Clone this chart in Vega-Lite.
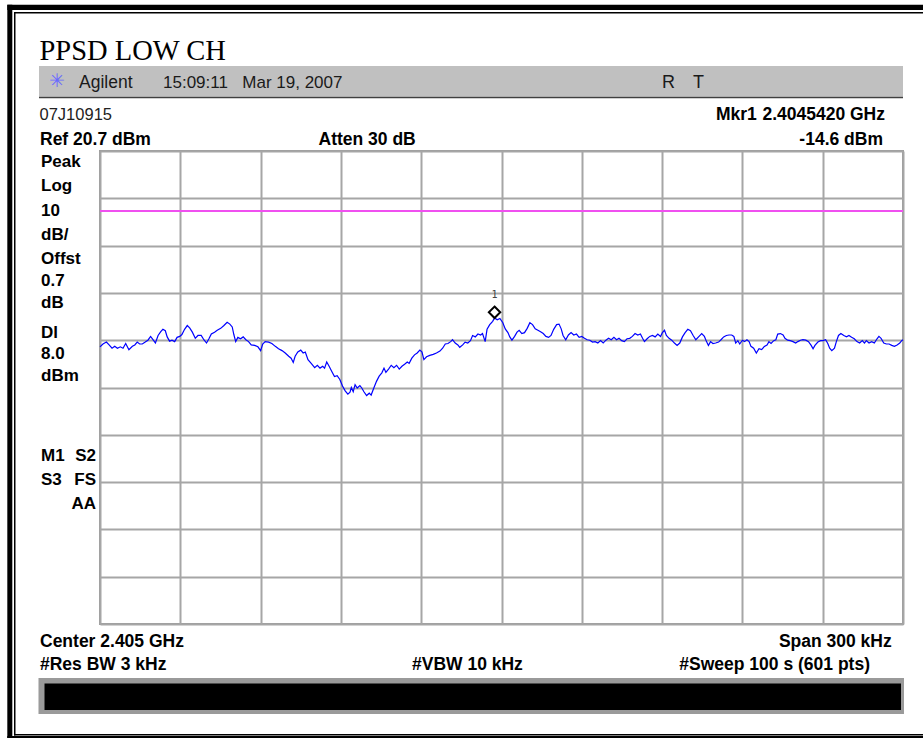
{
"$schema": "https://vega.github.io/schema/vega-lite/v6.json",
"width": 803, "height": 473,
"autosize": {"type": "none"},
"padding": {"left": 100, "top": 151, "right": 20, "bottom": 114},
"background": "white",
"config": {"view": {"stroke": "#9c9c9c", "strokeWidth": 2}, "font": "Liberation Sans"},
"data": {"values": [{}]},
"datasets": {
"trace": [
{"f":-150.0,"dBm":-20.7},{"f":-148.9,"dBm":-20.1},{"f":-147.6,"dBm":-19.7},{"f":-146.6,"dBm":-20.3},{"f":-145.5,"dBm":-21.0},{"f":-144.5,"dBm":-20.6},{"f":-143.5,"dBm":-21.0},{"f":-142.4,"dBm":-20.7},{"f":-141.4,"dBm":-21.0},{"f":-140.4,"dBm":-20.0},
{"f":-139.2,"dBm":-21.3},{"f":-137.9,"dBm":-20.6},{"f":-137.0,"dBm":-20.3},{"f":-136.1,"dBm":-19.7},{"f":-135.2,"dBm":-20.1},{"f":-134.2,"dBm":-20.1},{"f":-133.1,"dBm":-19.7},{"f":-132.1,"dBm":-19.3},{"f":-131.1,"dBm":-18.5},{"f":-130.2,"dBm":-19.2},
{"f":-129.3,"dBm":-19.9},{"f":-128.3,"dBm":-18.3},{"f":-127.3,"dBm":-17.5},{"f":-126.5,"dBm":-17.0},{"f":-125.6,"dBm":-17.3},{"f":-124.9,"dBm":-18.6},{"f":-124.0,"dBm":-19.5},{"f":-123.1,"dBm":-19.3},{"f":-122.1,"dBm":-19.6},{"f":-121.2,"dBm":-18.7},
{"f":-120.2,"dBm":-18.5},{"f":-119.4,"dBm":-18.1},{"f":-118.4,"dBm":-17.0},{"f":-117.4,"dBm":-16.2},{"f":-116.5,"dBm":-16.7},{"f":-115.5,"dBm":-17.6},{"f":-114.4,"dBm":-18.9},{"f":-113.4,"dBm":-18.3},{"f":-112.2,"dBm":-18.3},{"f":-111.2,"dBm":-19.2},
{"f":-110.2,"dBm":-19.9},{"f":-109.3,"dBm":-19.0},{"f":-108.4,"dBm":-18.0},{"f":-107.2,"dBm":-17.6},{"f":-106.2,"dBm":-17.2},{"f":-104.9,"dBm":-16.8},{"f":-103.7,"dBm":-16.2},{"f":-102.5,"dBm":-15.5},{"f":-101.5,"dBm":-15.9},{"f":-100.6,"dBm":-16.5},
{"f":-100.0,"dBm":-18.1},{"f":-99.3,"dBm":-19.6},{"f":-98.5,"dBm":-18.7},{"f":-97.5,"dBm":-19.0},{"f":-96.5,"dBm":-18.6},{"f":-95.5,"dBm":-19.2},{"f":-94.5,"dBm":-19.6},{"f":-93.5,"dBm":-20.3},{"f":-92.2,"dBm":-20.4},{"f":-91.0,"dBm":-20.7},
{"f":-90.0,"dBm":-21.5},{"f":-89.2,"dBm":-20.1},{"f":-88.3,"dBm":-19.6},{"f":-87.0,"dBm":-19.7},{"f":-85.8,"dBm":-20.0},{"f":-84.5,"dBm":-20.6},{"f":-83.3,"dBm":-21.1},{"f":-82.0,"dBm":-21.5},{"f":-80.8,"dBm":-22.0},{"f":-79.5,"dBm":-22.7},
{"f":-78.6,"dBm":-23.1},{"f":-77.8,"dBm":-24.0},{"f":-77.1,"dBm":-22.7},{"f":-76.1,"dBm":-21.8},{"f":-75.0,"dBm":-21.4},{"f":-74.1,"dBm":-22.0},{"f":-73.3,"dBm":-21.8},{"f":-72.3,"dBm":-23.4},{"f":-71.1,"dBm":-24.2},{"f":-69.8,"dBm":-25.1},
{"f":-68.8,"dBm":-24.6},{"f":-67.8,"dBm":-25.2},{"f":-66.8,"dBm":-24.8},{"f":-66.1,"dBm":-25.2},{"f":-65.3,"dBm":-23.9},{"f":-64.4,"dBm":-24.8},{"f":-63.4,"dBm":-25.9},{"f":-62.4,"dBm":-27.0},{"f":-61.4,"dBm":-26.8},{"f":-60.4,"dBm":-27.6},
{"f":-59.4,"dBm":-29.0},{"f":-58.4,"dBm":-30.0},{"f":-57.4,"dBm":-30.7},{"f":-56.6,"dBm":-30.3},{"f":-56.1,"dBm":-29.3},{"f":-55.4,"dBm":-30.2},{"f":-54.7,"dBm":-28.7},{"f":-53.9,"dBm":-29.4},{"f":-52.9,"dBm":-28.9},{"f":-52.2,"dBm":-29.4},
{"f":-51.4,"dBm":-30.2},{"f":-50.4,"dBm":-31.0},{"f":-49.4,"dBm":-30.5},{"f":-48.7,"dBm":-30.9},{"f":-47.7,"dBm":-29.4},{"f":-46.7,"dBm":-28.0},{"f":-45.7,"dBm":-26.9},{"f":-44.7,"dBm":-26.2},{"f":-43.9,"dBm":-25.2},{"f":-43.2,"dBm":-26.1},
{"f":-42.2,"dBm":-25.4},{"f":-41.2,"dBm":-24.6},{"f":-40.2,"dBm":-25.1},{"f":-39.2,"dBm":-24.6},{"f":-38.2,"dBm":-25.4},{"f":-37.2,"dBm":-24.8},{"f":-36.2,"dBm":-24.4},{"f":-35.2,"dBm":-23.9},{"f":-34.5,"dBm":-24.2},{"f":-33.5,"dBm":-23.1},
{"f":-32.5,"dBm":-22.4},{"f":-31.5,"dBm":-22.0},{"f":-30.5,"dBm":-21.4},{"f":-29.7,"dBm":-21.8},{"f":-29.0,"dBm":-23.4},{"f":-28.0,"dBm":-22.8},{"f":-26.8,"dBm":-22.5},{"f":-25.5,"dBm":-22.3},{"f":-24.3,"dBm":-22.0},{"f":-23.0,"dBm":-21.6},
{"f":-22.0,"dBm":-21.0},{"f":-21.0,"dBm":-20.1},{"f":-20.0,"dBm":-20.0},{"f":-19.0,"dBm":-19.6},{"f":-18.3,"dBm":-19.2},{"f":-17.3,"dBm":-19.9},{"f":-16.3,"dBm":-20.3},{"f":-15.6,"dBm":-20.8},{"f":-14.5,"dBm":-20.3},{"f":-13.6,"dBm":-19.7},
{"f":-12.6,"dBm":-19.9},{"f":-11.6,"dBm":-19.4},{"f":-10.8,"dBm":-18.3},{"f":-9.8,"dBm":-18.6},{"f":-8.8,"dBm":-18.0},{"f":-7.8,"dBm":-18.2},{"f":-7.1,"dBm":-17.9},{"f":-6.1,"dBm":-19.6},{"f":-5.4,"dBm":-17.0},{"f":-4.4,"dBm":-16.0},
{"f":-3.3,"dBm":-15.3},{"f":-2.6,"dBm":-14.6},{"f":-1.6,"dBm":-15.0},{"f":-0.6,"dBm":-14.7},{"f":0.5,"dBm":-15.6},{"f":1.4,"dBm":-16.9},{"f":2.4,"dBm":-17.7},{"f":3.1,"dBm":-18.6},{"f":3.9,"dBm":-19.3},{"f":4.9,"dBm":-18.5},
{"f":5.8,"dBm":-17.6},{"f":6.6,"dBm":-17.2},{"f":7.6,"dBm":-17.9},{"f":8.6,"dBm":-17.7},{"f":9.6,"dBm":-16.8},{"f":10.6,"dBm":-15.6},{"f":11.6,"dBm":-16.0},{"f":12.6,"dBm":-16.9},{"f":13.6,"dBm":-17.2},{"f":14.6,"dBm":-17.5},
{"f":15.6,"dBm":-17.9},{"f":16.6,"dBm":-18.5},{"f":17.6,"dBm":-18.7},{"f":18.5,"dBm":-18.3},{"f":19.5,"dBm":-17.0},{"f":20.6,"dBm":-16.0},{"f":21.5,"dBm":-15.9},{"f":22.3,"dBm":-16.9},{"f":23.0,"dBm":-18.3},{"f":24.0,"dBm":-19.2},
{"f":25.0,"dBm":-18.2},{"f":26.0,"dBm":-17.7},{"f":27.0,"dBm":-18.2},{"f":28.0,"dBm":-18.0},{"f":29.0,"dBm":-18.7},{"f":30.0,"dBm":-18.5},{"f":31.0,"dBm":-18.9},{"f":32.0,"dBm":-19.2},{"f":33.0,"dBm":-19.3},{"f":34.0,"dBm":-19.7},
{"f":35.0,"dBm":-19.6},{"f":36.0,"dBm":-19.9},{"f":37.0,"dBm":-19.4},{"f":38.0,"dBm":-19.9},{"f":39.0,"dBm":-19.3},{"f":40.0,"dBm":-18.9},{"f":41.0,"dBm":-19.2},{"f":42.0,"dBm":-18.7},{"f":43.0,"dBm":-19.2},{"f":43.9,"dBm":-18.9},
{"f":44.9,"dBm":-19.4},{"f":45.9,"dBm":-19.6},{"f":46.9,"dBm":-19.0},{"f":47.9,"dBm":-18.9},{"f":48.9,"dBm":-18.5},{"f":49.9,"dBm":-17.9},{"f":50.9,"dBm":-18.2},{"f":51.9,"dBm":-18.0},{"f":52.7,"dBm":-18.9},{"f":53.4,"dBm":-19.6},
{"f":54.4,"dBm":-19.0},{"f":55.4,"dBm":-18.5},{"f":56.4,"dBm":-18.3},{"f":57.4,"dBm":-18.6},{"f":58.4,"dBm":-18.0},{"f":59.4,"dBm":-18.5},{"f":60.1,"dBm":-17.7},{"f":60.9,"dBm":-17.2},{"f":61.6,"dBm":-18.3},{"f":62.6,"dBm":-18.9},
{"f":63.6,"dBm":-19.3},{"f":64.6,"dBm":-19.9},{"f":65.6,"dBm":-20.4},{"f":66.6,"dBm":-19.9},{"f":67.6,"dBm":-18.6},{"f":68.6,"dBm":-17.7},{"f":69.6,"dBm":-17.0},{"f":70.6,"dBm":-17.3},{"f":71.6,"dBm":-18.3},{"f":72.6,"dBm":-19.2},
{"f":73.8,"dBm":-18.5},{"f":74.8,"dBm":-17.9},{"f":75.8,"dBm":-18.5},{"f":76.6,"dBm":-19.6},{"f":77.3,"dBm":-20.4},{"f":78.1,"dBm":-19.6},{"f":79.0,"dBm":-20.0},{"f":80.0,"dBm":-19.9},{"f":81.1,"dBm":-19.7},{"f":82.0,"dBm":-19.2},
{"f":83.0,"dBm":-18.6},{"f":84.0,"dBm":-18.3},{"f":85.0,"dBm":-18.2},{"f":86.0,"dBm":-18.2},{"f":86.8,"dBm":-18.5},{"f":87.5,"dBm":-19.9},{"f":88.3,"dBm":-19.4},{"f":89.0,"dBm":-20.1},{"f":90.0,"dBm":-19.3},{"f":90.8,"dBm":-19.6},
{"f":91.7,"dBm":-19.2},{"f":92.5,"dBm":-19.6},{"f":93.2,"dBm":-20.6},{"f":94.2,"dBm":-21.0},{"f":95.2,"dBm":-22.0},{"f":96.2,"dBm":-21.1},{"f":97.2,"dBm":-21.3},{"f":98.2,"dBm":-20.6},{"f":99.2,"dBm":-20.3},{"f":99.9,"dBm":-19.6},
{"f":100.7,"dBm":-20.0},{"f":101.7,"dBm":-19.4},{"f":102.5,"dBm":-19.2},{"f":103.2,"dBm":-18.0},{"f":104.2,"dBm":-17.9},{"f":105.2,"dBm":-18.2},{"f":105.9,"dBm":-18.9},{"f":106.9,"dBm":-19.3},{"f":107.9,"dBm":-19.4},{"f":108.9,"dBm":-19.6},
{"f":109.9,"dBm":-19.9},{"f":110.7,"dBm":-19.6},{"f":111.7,"dBm":-19.3},{"f":112.6,"dBm":-19.2},{"f":113.7,"dBm":-19.3},{"f":114.7,"dBm":-19.6},{"f":115.7,"dBm":-20.4},{"f":116.4,"dBm":-21.1},{"f":117.1,"dBm":-20.4},{"f":118.2,"dBm":-19.7},
{"f":119.2,"dBm":-19.4},{"f":120.1,"dBm":-19.4},{"f":121.1,"dBm":-19.2},{"f":121.9,"dBm":-20.0},{"f":122.6,"dBm":-21.0},{"f":123.4,"dBm":-21.5},{"f":124.4,"dBm":-21.0},{"f":125.1,"dBm":-19.6},{"f":125.9,"dBm":-18.3},{"f":126.8,"dBm":-17.9},
{"f":127.9,"dBm":-18.3},{"f":128.9,"dBm":-18.6},{"f":129.8,"dBm":-18.3},{"f":130.8,"dBm":-18.7},{"f":131.8,"dBm":-19.0},{"f":132.8,"dBm":-19.6},{"f":133.8,"dBm":-19.9},{"f":134.8,"dBm":-19.4},{"f":135.6,"dBm":-19.9},{"f":136.3,"dBm":-19.4},
{"f":137.3,"dBm":-19.9},{"f":138.3,"dBm":-19.6},{"f":139.3,"dBm":-19.9},{"f":140.3,"dBm":-19.0},{"f":141.0,"dBm":-18.5},{"f":141.8,"dBm":-18.9},{"f":142.8,"dBm":-19.9},{"f":143.8,"dBm":-20.1},{"f":144.8,"dBm":-20.1},{"f":145.8,"dBm":-20.4},
{"f":146.8,"dBm":-20.6},{"f":147.8,"dBm":-20.3},{"f":148.8,"dBm":-19.9},{"f":149.5,"dBm":-19.4},{"f":150.0,"dBm":-19.2}
],
"marker": [{"f": -2.6, "dBm": -14.6, "label": "1"}]
},
"layer": [
{"mark": {"type": "rect", "fill": "black"}, "encoding": {"x": {"datum": -184.63}, "x2": {"datum": -182.76}, "y": {"datum": 51.63}, "y2": {"datum": -104.88}}},
{"mark": {"type": "rect", "fill": "black"}, "encoding": {"x": {"datum": -184.63}, "x2": {"datum": 160.09}, "y": {"datum": 51.63}, "y2": {"datum": 50.51}}},
{"mark": {"type": "rect", "fill": "black"}, "encoding": {"x": {"datum": -184.63}, "x2": {"datum": 160.09}, "y": {"datum": -102.98}, "y2": {"datum": -104.88}}},
{"mark": {"type": "rect", "fill": "black"}, "encoding": {"x": {"datum": -182.13}, "x2": {"datum": -181.57}, "y": {"datum": 50.09}, "y2": {"datum": -102.85}}},
{"mark": {"type": "rect", "fill": "black"}, "encoding": {"x": {"datum": -182.13}, "x2": {"datum": 160.09}, "y": {"datum": 50.09}, "y2": {"datum": 49.79}}},
{"mark": {"type": "rect", "fill": "black"}, "encoding": {"x": {"datum": -182.13}, "x2": {"datum": 160.09}, "y": {"datum": -102.56}, "y2": {"datum": -102.85}}},
{"mark": {"type": "text", "align": "left", "baseline": "alphabetic", "font": "Liberation Serif", "fontSize": 28.5, "color": "black"}, "encoding": {"x": {"datum": -172.6}, "y": {"datum": 39.94}, "text": {"value": "PPSD LOW CH"}}},
{"mark": {"type": "rect", "fill": "#c0c0c0"}, "encoding": {"x": {"datum": -172.79}, "x2": {"datum": 150.0}, "y": {"datum": 38.67}, "y2": {"datum": 32.18}}},
{"mark": {"type": "rect", "fill": "#404040"}, "encoding": {"x": {"datum": -172.79}, "x2": {"datum": 150.0}, "y": {"datum": 32.18}, "y2": {"datum": 31.84}}},
{"mark": {"type": "text", "align": "center", "baseline": "middle", "fontSize": 19, "color": "#6a6aff", "font": "DejaVu Sans"}, "encoding": {"x": {"datum": -166.06}, "y": {"datum": 35.5}, "text": {"value": "✳"}}},
{"mark": {"type": "text", "align": "left", "baseline": "alphabetic", "fontSize": 17.5, "color": "#1a1a1a"}, "encoding": {"x": {"datum": -157.85}, "y": {"datum": 33.96}, "text": {"value": "Agilent"}}},
{"mark": {"type": "text", "align": "left", "baseline": "alphabetic", "fontSize": 17, "color": "#1a1a1a"}, "encoding": {"x": {"datum": -126.46}, "y": {"datum": 33.96}, "text": {"value": "15:09:11"}}},
{"mark": {"type": "text", "align": "left", "baseline": "alphabetic", "fontSize": 17, "color": "#1a1a1a"}, "encoding": {"x": {"datum": -96.84}, "y": {"datum": 33.96}, "text": {"value": "Mar 19, 2007"}}},
{"mark": {"type": "text", "align": "left", "baseline": "alphabetic", "fontSize": 18, "color": "#1a1a1a"}, "encoding": {"x": {"datum": 59.96}, "y": {"datum": 33.96}, "text": {"value": "R"}}},
{"mark": {"type": "text", "align": "left", "baseline": "alphabetic", "fontSize": 18, "color": "#1a1a1a"}, "encoding": {"x": {"datum": 71.54}, "y": {"datum": 33.96}, "text": {"value": "T"}}},
{"mark": {"type": "text", "align": "left", "baseline": "alphabetic", "fontSize": 16.5, "color": "#222222"}, "encoding": {"x": {"datum": -172.6}, "y": {"datum": 27.25}, "text": {"value": "07J10915"}}},
{"mark": {"type": "text", "align": "left", "baseline": "alphabetic", "fontSize": 17.5, "fontWeight": "bold", "color": "black"}, "encoding": {"x": {"datum": -172.42}, "y": {"datum": 21.97}, "text": {"value": "Ref 20.7 dBm"}}},
{"mark": {"type": "text", "align": "left", "baseline": "alphabetic", "fontSize": 17.5, "fontWeight": "bold", "color": "black"}, "encoding": {"x": {"datum": -68.37}, "y": {"datum": 21.97}, "text": {"value": "Atten 30 dB"}}},
{"mark": {"type": "text", "align": "left", "baseline": "alphabetic", "fontSize": 17.5, "fontWeight": "bold", "color": "black"}, "encoding": {"x": {"datum": 80.13}, "y": {"datum": 27.15}, "text": {"value": "Mkr1"}}},
{"mark": {"type": "text", "align": "right", "baseline": "alphabetic", "fontSize": 17.5, "fontWeight": "bold", "color": "black"}, "encoding": {"x": {"datum": 143.28}, "y": {"datum": 27.15}, "text": {"value": "2.4045420 GHz"}}},
{"mark": {"type": "text", "align": "right", "baseline": "alphabetic", "fontSize": 17.5, "fontWeight": "bold", "color": "black"}, "encoding": {"x": {"datum": 142.53}, "y": {"datum": 21.97}, "text": {"value": "-14.6 dBm"}}},
{"mark": {"type": "text", "align": "left", "baseline": "alphabetic", "fontSize": 17, "fontWeight": "bold", "color": "black"}, "encoding": {"x": {"datum": -172.04}, "y": {"datum": 17.32}, "text": {"value": "Peak"}}},
{"mark": {"type": "text", "align": "left", "baseline": "alphabetic", "fontSize": 17, "fontWeight": "bold", "color": "black"}, "encoding": {"x": {"datum": -172.04}, "y": {"datum": 12.31}, "text": {"value": "Log"}}},
{"mark": {"type": "text", "align": "left", "baseline": "alphabetic", "fontSize": 17, "fontWeight": "bold", "color": "black"}, "encoding": {"x": {"datum": -172.04}, "y": {"datum": 6.96}, "text": {"value": "10"}}},
{"mark": {"type": "text", "align": "left", "baseline": "alphabetic", "fontSize": 17, "fontWeight": "bold", "color": "black"}, "encoding": {"x": {"datum": -172.04}, "y": {"datum": 1.88}, "text": {"value": "dB/"}}},
{"mark": {"type": "text", "align": "left", "baseline": "alphabetic", "fontSize": 17, "fontWeight": "bold", "color": "black"}, "encoding": {"x": {"datum": -172.04}, "y": {"datum": -3.19}, "text": {"value": "Offst"}}},
{"mark": {"type": "text", "align": "left", "baseline": "alphabetic", "fontSize": 17, "fontWeight": "bold", "color": "black"}, "encoding": {"x": {"datum": -172.04}, "y": {"datum": -7.78}, "text": {"value": "0.7"}}},
{"mark": {"type": "text", "align": "left", "baseline": "alphabetic", "fontSize": 17, "fontWeight": "bold", "color": "black"}, "encoding": {"x": {"datum": -172.04}, "y": {"datum": -12.43}, "text": {"value": "dB"}}},
{"mark": {"type": "text", "align": "left", "baseline": "alphabetic", "fontSize": 17, "fontWeight": "bold", "color": "black"}, "encoding": {"x": {"datum": -172.04}, "y": {"datum": -18.83}, "text": {"value": "Dl"}}},
{"mark": {"type": "text", "align": "left", "baseline": "alphabetic", "fontSize": 17, "fontWeight": "bold", "color": "black"}, "encoding": {"x": {"datum": -172.04}, "y": {"datum": -23.27}, "text": {"value": "8.0"}}},
{"mark": {"type": "text", "align": "left", "baseline": "alphabetic", "fontSize": 17, "fontWeight": "bold", "color": "black"}, "encoding": {"x": {"datum": -172.04}, "y": {"datum": -27.86}, "text": {"value": "dBm"}}},
{"mark": {"type": "text", "align": "left", "baseline": "alphabetic", "fontSize": 17, "fontWeight": "bold", "color": "black"}, "encoding": {"x": {"datum": -172.04}, "y": {"datum": -44.78}, "text": {"value": "M1"}}},
{"mark": {"type": "text", "align": "right", "baseline": "alphabetic", "fontSize": 17, "fontWeight": "bold", "color": "black"}, "encoding": {"x": {"datum": -151.49}, "y": {"datum": -44.78}, "text": {"value": "S2"}}},
{"mark": {"type": "text", "align": "left", "baseline": "alphabetic", "fontSize": 17, "fontWeight": "bold", "color": "black"}, "encoding": {"x": {"datum": -172.04}, "y": {"datum": -49.91}, "text": {"value": "S3"}}},
{"mark": {"type": "text", "align": "right", "baseline": "alphabetic", "fontSize": 17, "fontWeight": "bold", "color": "black"}, "encoding": {"x": {"datum": -151.49}, "y": {"datum": -49.91}, "text": {"value": "FS"}}},
{"mark": {"type": "text", "align": "right", "baseline": "alphabetic", "fontSize": 17, "fontWeight": "bold", "color": "black"}, "encoding": {"x": {"datum": -151.49}, "y": {"datum": -54.99}, "text": {"value": "AA"}}},
{"mark": {"type": "text", "align": "left", "baseline": "alphabetic", "fontSize": 17.5, "fontWeight": "bold", "color": "black"}, "encoding": {"x": {"datum": -172.42}, "y": {"datum": -84.06}, "text": {"value": "Center 2.405 GHz"}}},
{"mark": {"type": "text", "align": "right", "baseline": "alphabetic", "fontSize": 17.5, "fontWeight": "bold", "color": "black"}, "encoding": {"x": {"datum": 145.78}, "y": {"datum": -84.06}, "text": {"value": "Span 300 kHz"}}},
{"mark": {"type": "text", "align": "left", "baseline": "alphabetic", "fontSize": 17.5, "fontWeight": "bold", "color": "black"}, "encoding": {"x": {"datum": -172.42}, "y": {"datum": -89.03}, "text": {"value": "#Res BW 3 kHz"}}},
{"mark": {"type": "text", "align": "left", "baseline": "alphabetic", "fontSize": 17.5, "fontWeight": "bold", "color": "black"}, "encoding": {"x": {"datum": -33.44}, "y": {"datum": -89.03}, "text": {"value": "#VBW 10 kHz"}}},
{"mark": {"type": "text", "align": "right", "baseline": "alphabetic", "fontSize": 17.5, "fontWeight": "bold", "color": "black"}, "encoding": {"x": {"datum": 137.67}, "y": {"datum": -89.03}, "text": {"value": "#Sweep 100 s (601 pts)"}}},
{"mark": {"type": "rect", "fill": "#9a9a9a"}, "encoding": {"x": {"datum": -172.98}, "x2": {"datum": 150.37}, "y": {"datum": -90.72}, "y2": {"datum": -98.33}}},
{"mark": {"type": "rect", "fill": "black"}, "encoding": {"x": {"datum": -170.73}, "x2": {"datum": 149.25}, "y": {"datum": -91.88}, "y2": {"datum": -97.48}}},
{
 "data": {"name": "trace"},
 "mark": {"type": "line", "color": "#0000ff", "strokeWidth": 1.2},
 "encoding": {
  "x": {"field": "f", "type": "quantitative", "scale": {"domain": [-150, 150], "nice": false, "zero": false},
        "axis": {"values": [-150, -120, -90, -60, -30, 0, 30, 60, 90, 120, 150], "grid": true, "gridColor": "#a6a6a6", "gridWidth": 2, "labels": false, "ticks": false, "domain": false, "title": null}},
  "y": {"field": "dBm", "type": "quantitative", "scale": {"domain": [-79.3, 20.7], "nice": false, "zero": false},
        "axis": {"values": [20.7, 10.7, 0.7, -9.3, -19.3, -29.3, -39.3, -49.3, -59.3, -69.3, -79.3], "grid": true, "gridColor": "#a6a6a6", "gridWidth": 2, "labels": false, "ticks": false, "domain": false, "title": null}}
 }
},
{"mark": {"type": "rule", "color": "#f050f0", "strokeWidth": 2}, "encoding": {"y": {"datum": 8.0}}},
{
 "data": {"name": "marker"},
 "mark": {"type": "point", "shape": "M0,-2L1,-1L0,0L-1,-1Z", "size": 130, "filled": true, "fill": "white", "stroke": "black", "strokeWidth": 2, "opacity": 1},
 "encoding": {"x": {"field": "f", "type": "quantitative"}, "y": {"field": "dBm", "type": "quantitative"}}
},
{
 "data": {"name": "marker"},
 "mark": {"type": "text", "dy": -23, "fontSize": 10, "font": "DejaVu Sans Mono", "color": "#444444", "baseline": "middle"},
 "encoding": {"x": {"field": "f", "type": "quantitative"}, "y": {"field": "dBm", "type": "quantitative"}, "text": {"field": "label"}}
}
]
}
